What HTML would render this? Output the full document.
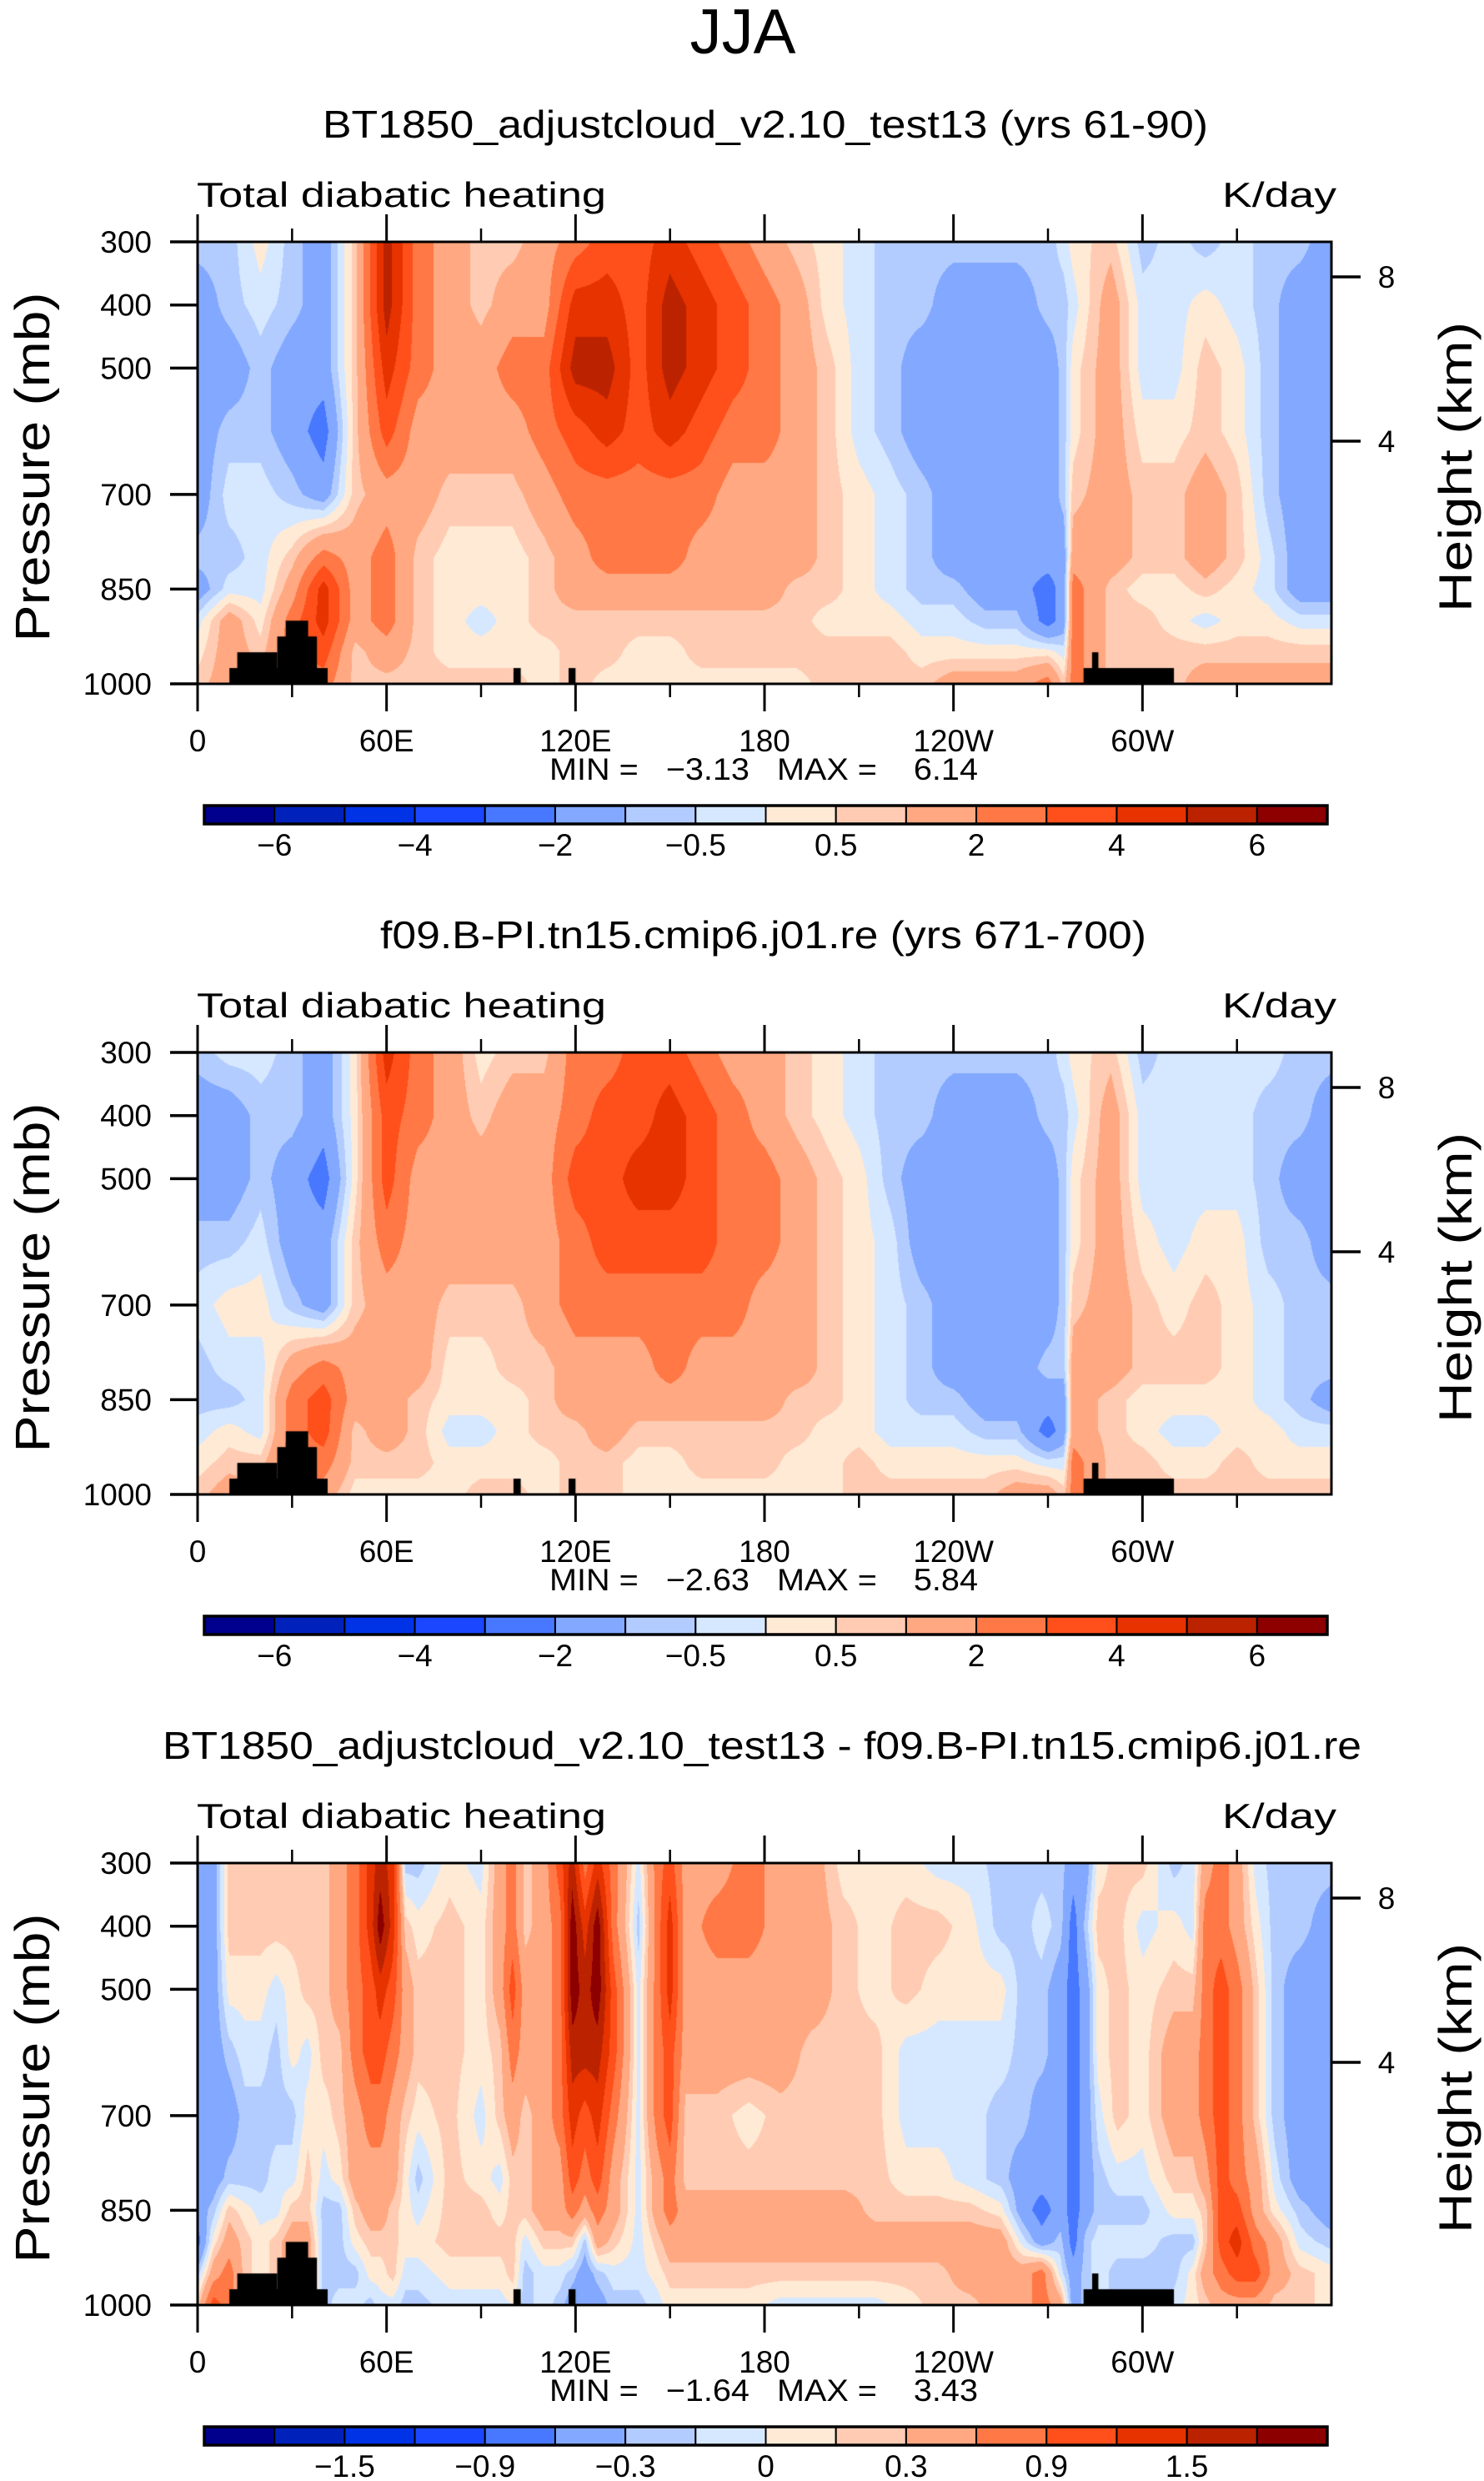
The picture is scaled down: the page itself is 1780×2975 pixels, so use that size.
<!DOCTYPE html>
<html><head><meta charset="utf-8">
<style>
html,body{margin:0;padding:0;background:#fff;}
#wrap{position:relative;width:1780px;height:2975px;overflow:hidden;}
canvas{position:absolute;}
svg{position:absolute;left:0;top:0;}
text{font-family:"Liberation Sans",sans-serif;fill:#000;}
</style></head>
<body>
<div id="wrap">
<canvas id="c0" width="1360" height="530" style="left:237px;top:290px"></canvas>
<canvas id="c1" width="1360" height="530" style="left:237px;top:1262px"></canvas>
<canvas id="c2" width="1360" height="530" style="left:237px;top:2234px"></canvas>
<svg id="ov" width="1780" height="2975">
<text x="891" y="64" font-size="76" text-anchor="middle" textLength="127" lengthAdjust="spacingAndGlyphs">JJA</text>
</svg>
</div>
<script>
// ---------- shared data ----------
const pressures = [300,400,500,600,700,800,850,900,950,1000];
const pressTicks = [300,400,500,700,850,1000];
const kmTicks = [8,4];
const lonMajor = [0,60,120,180,240,300];
const lonMajorLabels = ['0','60E','120E','180','120W','60W'];
const lonMinor = [30,90,150,210,270,330];
// land mask: [lonStart, lonEnd, topPressure]
const landLon0 = [10.1,12.6,25.3,28,100.3,117.8,281.3,284];
const landLon1 = [41.3,25.3,37.9,35.1,102.6,120,310,286];
const landTop  = [975,950,925,900,975,975,975,950];

const colors = ['#00008c','#0022bb','#0033e6','#1a47ff','#4878ff','#82a8ff','#b3ccff','#d6e8ff','#ffead6','#ffccb3','#ffa882','#ff7845','#ff4f1a','#e63300','#bb2200','#8c0000'];

// ---------- panel 1 ----------
const title1 = 'BT1850_adjustcloud_v2.10_test13 (yrs 61-90)';
const minmax1 = ['-3.13','6.14'];
const levels1 = [-6,-5,-4,-3,-2,-1,-0.5,0,0.5,1,2,3,4,5,6];
const cbLabels1 = [-6,-4,-2,-0.5,0.5,2,4,6];
const p1Lons = [0,10,20,30,40,50,60,70,80,90,100,110,120,130,140,150,160,170,180,190,200,210,220,230,240,250,260,270,275,278,290,300,310,320,330,340,350,360];
const p1Vals = [
[-0.75,-1.5,-1.5,-1.5,-1.5,-0.75,-1.5,-0.25,0.25,0.75],
[-0.75,-0.75,-1.5,-0.75,-0.25,-0.75,-0.25,1.5,1.5,1.5],
[0.25,-0.25,-0.75,-0.75,-0.25,-0.25,-0.25,0.25,0.75,0.75],
[-0.75,-0.75,-1.5,-1.5,-0.75,0.75,1.5,2.5,2.5,2.5],
[-1.5,-1.5,-1.5,-2.5,-1.5,2.5,4.5,4.5,3.5,2.5],
[0.75,0.75,0.75,0.75,0.75,1.5,1.5,1.5,0.75,0.75],
[5.5,5.5,4.5,3.5,1.5,2.5,2.5,2.5,1.5,0.75],
[2.5,2.5,2.5,1.5,1.5,0.75,0.75,0.75,0.75,0.75],
[1.5,1.5,1.5,1.5,0.75,0.25,0.25,0.25,0.25,0.75],
[0.75,0.75,1.5,1.5,0.75,0.25,0.25,-0.25,0.25,0.75],
[0.75,1.5,2.5,1.5,0.75,0.25,0.25,0.25,0.25,0.75],
[1.5,1.5,2.5,2.5,1.5,0.75,0.75,0.75,0.25,0.25],
[2.5,4.5,5.5,3.5,2.5,1.5,1.5,0.75,0.75,0.75],
[3.5,4.5,5.5,4.5,2.5,2.5,1.5,0.75,0.75,0.25],
[3.5,3.5,3.5,3.5,2.5,2.5,1.5,0.75,0.25,0.25],
[4.5,5.5,5.5,4.5,2.5,2.5,1.5,0.75,0.25,0.25],
[3.5,4.5,4.5,3.5,2.5,1.5,1.5,0.75,0.75,0.25],
[2.5,3.5,3.5,2.5,1.5,1.5,1.5,0.75,0.75,0.25],
[1.5,2.5,2.5,2.5,1.5,1.5,1.5,0.75,0.75,0.25],
[0.75,1.5,1.5,1.5,1.5,1.5,0.75,0.75,0.75,0.25],
[0.25,0.25,0.75,0.75,0.75,0.75,0.75,0.25,0.75,0.75],
[-0.25,-0.25,-0.25,-0.25,0.25,0.25,0.25,0.25,0.75,0.75],
[-0.75,-0.75,-0.75,-0.75,-0.25,-0.25,-0.25,0.25,0.75,0.75],
[-0.75,-0.75,-1.5,-1.5,-0.75,-0.75,-0.75,-0.25,0.25,0.75],
[-0.75,-1.5,-1.5,-1.5,-1.5,-1.5,-0.75,-0.25,0.25,1.5],
[-0.75,-1.5,-1.5,-1.5,-1.5,-1.5,-1.5,-0.75,0.25,1.5],
[-0.75,-1.5,-1.5,-1.5,-1.5,-1.5,-1.5,-0.75,0.25,1.5],
[-0.75,-0.75,-1.5,-1.5,-1.5,-1.5,-2.5,-2.5,0.25,2.5],
[-0.25,-0.75,-0.75,-0.75,-0.75,-1.5,-1.5,-1.5,-0.25,0.75],
[0.25,-0.25,0.25,0.25,0.75,1.5,2.5,2.5,2.5,2.5],
[0.75,1.5,1.5,1.5,1.5,1.5,0.75,0.75,0.75,0.75],
[-0.75,-0.25,-0.25,0.25,0.75,0.75,0.25,0.75,0.75,0.75],
[-0.25,-0.25,-0.25,0.25,0.75,0.75,0.25,0.25,0.75,0.75],
[-0.75,0.25,0.75,0.75,1.5,1.5,0.75,-0.25,0.75,1.5],
[-0.25,-0.25,0.25,0.25,0.75,0.75,0.25,0.25,0.75,1.5],
[-0.75,-0.75,-0.75,-0.75,-0.75,-0.25,-0.25,0.25,0.75,1.5],
[-0.75,-1.5,-1.5,-1.5,-1.5,-1.5,-1.5,-0.25,0.75,1.5],
[-1.5,-1.5,-1.5,-1.5,-1.5,-1.5,-1.5,-0.25,0.75,1.5]
];

// ---------- panel 2 ----------
const title2 = 'f09.B-PI.tn15.cmip6.j01.re (yrs 671-700)';
const minmax2 = ['-2.63','5.84'];
const p2Lons = [0,10,20,30,40,50,60,70,80,90,100,110,120,130,140,150,160,170,180,190,200,210,220,230,240,250,260,270,275,278,290,300,310,320,330,340,350,360];
const p2Vals = [
[-0.75,-1.5,-1.5,-0.75,-0.25,-0.75,-0.75,-0.25,0.25,0.75],
[-0.25,-1.5,-1.5,-0.75,0.25,-0.25,-0.75,0.25,0.75,1.5],
[-0.25,-0.75,-0.75,-0.25,0.25,-0.25,-0.25,-0.25,0.75,0.75],
[-0.75,-0.75,-1.5,-1.5,-0.75,1.5,2.5,2.5,2.5,2.5],
[-1.5,-1.5,-2.5,-1.5,-1.5,2.5,3.5,3.5,2.5,1.5],
[0.25,0.25,0.25,0.75,0.75,1.5,1.5,0.75,0.75,0.25],
[4.5,3.5,3.5,2.5,1.5,1.5,1.5,1.5,0.75,0.25],
[2.5,2.5,1.5,1.5,1.5,1.5,0.75,0.75,0.75,0.25],
[1.5,1.5,1.5,1.5,0.75,0.25,0.25,-0.25,0.25,0.25],
[0.25,0.75,1.5,1.5,0.75,0.25,0.25,-0.25,0.25,0.75],
[0.75,1.5,1.5,1.5,0.75,0.75,0.25,0.25,0.25,0.75],
[0.75,1.5,1.5,1.5,1.5,0.75,0.75,0.75,0.25,0.25],
[2.5,2.5,3.5,2.5,2.5,1.5,1.5,0.75,0.75,0.75],
[2.5,3.5,3.5,3.5,2.5,1.5,1.5,1.5,0.75,0.75],
[3.5,3.5,4.5,3.5,2.5,1.5,1.5,0.75,0.25,0.25],
[3.5,4.5,4.5,3.5,2.5,2.5,1.5,0.75,0.25,0.25],
[2.5,3.5,3.5,3.5,2.5,1.5,1.5,0.75,0.75,0.25],
[1.5,2.5,2.5,2.5,2.5,1.5,1.5,0.75,0.75,0.25],
[1.5,1.5,2.5,2.5,1.5,1.5,1.5,0.75,0.75,0.25],
[0.75,0.75,1.5,1.5,1.5,1.5,0.75,0.75,0.25,0.25],
[0.25,0.25,0.75,0.75,0.75,0.75,0.75,0.25,0.25,0.25],
[-0.25,-0.25,0.25,0.25,0.25,0.25,0.25,0.25,0.75,0.75],
[-0.75,-0.75,-0.75,-0.25,-0.25,-0.25,-0.25,-0.25,0.25,0.75],
[-0.75,-0.75,-1.5,-1.5,-0.75,-0.75,-0.75,-0.25,0.25,0.75],
[-0.75,-1.5,-1.5,-1.5,-1.5,-1.5,-0.75,-0.25,0.25,0.75],
[-0.75,-1.5,-1.5,-1.5,-1.5,-1.5,-1.5,-0.75,0.25,0.75],
[-0.75,-1.5,-1.5,-1.5,-1.5,-1.5,-1.5,-0.75,0.25,1.5],
[-0.75,-0.75,-1.5,-1.5,-1.5,-0.75,-1.5,-2.5,-0.25,1.5],
[-0.25,-0.75,-0.75,-0.75,-0.75,-0.75,-1.5,-1.5,-0.25,0.75],
[0.25,-0.25,0.25,0.25,0.75,1.5,1.5,1.5,2.5,2.5],
[0.75,1.5,1.5,1.5,1.5,1.5,0.75,0.75,0.75,0.75],
[-0.75,-0.25,-0.25,0.25,0.75,0.75,0.25,0.25,0.75,0.75],
[-0.25,-0.25,-0.25,-0.25,0.25,0.75,0.25,-0.25,0.25,0.75],
[-0.25,-0.25,-0.25,0.25,0.75,0.75,0.25,-0.25,0.25,0.75],
[-0.25,-0.25,-0.25,0.25,0.25,0.25,0.25,0.25,0.75,0.75],
[-0.25,-0.75,-0.75,-0.75,-0.25,-0.25,-0.25,0.25,0.25,0.75],
[-0.75,-0.75,-1.5,-0.75,-0.75,-0.75,-0.75,-0.25,0.25,0.75],
[-0.75,-1.5,-1.5,-1.5,-0.75,-0.75,-1.5,-0.25,0.25,0.75]
];

// ---------- panel 3 ----------
const title3 = 'BT1850_adjustcloud_v2.10_test13 - f09.B-PI.tn15.cmip6.j01.re';
const minmax3 = ['-1.64','3.43'];
const levels3 = [-1.8,-1.5,-1.2,-0.9,-0.6,-0.3,-0.15,0,0.15,0.3,0.6,0.9,1.2,1.5,1.8];
const cbLabels3 = [-1.5,-0.9,-0.3,0,0.3,0.9,1.5];
const p3Lons = [0,5,10,15,20,25,30,35,40,45,50,55,58,62,66,70,80,90,96,100,104,110,115,119,123,127,132,140,146,150,155,165,175,185,195,205,215,225,235,245,255,262,268,274,278,282,286,292,300,310,316,320,325,330,336,342,350,360];
const p3Vals = [
[-0.45,-0.45,-0.45,-0.45,-0.45,-0.45,-0.45,-0.75,-0.22,0.22],
[-0.45,-0.45,-0.45,-0.45,-0.45,-0.45,-0.22,0.07,0.45,1.05],
[0.22,0.22,0.07,-0.22,-0.45,-0.22,0.22,0.45,0.75,0.75],
[0.22,0.22,0.07,-0.07,-0.22,-0.22,0.07,0.22,0.22,0.22],
[0.22,0.22,0.07,-0.07,-0.22,-0.22,-0.07,0.07,0.07,0.07],
[0.22,0.22,-0.07,-0.22,-0.22,-0.07,-0.07,0.22,0.22,0.22],
[0.22,0.22,0.07,0.07,-0.22,-0.07,0.22,0.45,0.45,0.45],
[0.22,0.22,0.22,-0.07,0.07,0.22,0.22,0.45,0.45,0.45],
[0.22,0.22,0.22,0.22,0.07,-0.07,-0.22,-0.22,-0.22,-0.22],
[0.45,0.45,0.45,0.22,0.22,0.07,-0.22,-0.22,-0.22,-0.07],
[0.75,0.75,0.75,0.75,0.45,0.45,0.22,0.07,-0.22,-0.07],
[1.35,1.35,1.05,1.05,0.75,0.45,0.45,0.22,0.07,-0.22],
[1.65,2,1.35,1.05,0.75,0.45,0.45,0.22,0.07,-0.07],
[1.35,1.35,1.05,0.75,0.45,0.45,0.22,0.22,0.22,-0.07],
[-0.22,0.22,0.45,0.45,0.22,0.07,0.07,0.07,-0.07,-0.22],
[-0.22,0.07,0.22,0.22,0.07,-0.22,-0.07,0.07,-0.07,-0.22],
[0.07,0.22,0.22,0.22,0.22,0.22,0.22,0.22,0.07,-0.07],
[-0.07,0.07,0.07,0.07,-0.07,0.07,0.22,0.22,0.07,-0.07],
[0.45,0.45,0.45,0.22,0.22,-0.07,0.07,0.22,0.07,-0.07],
[0.75,0.75,1.05,0.75,0.45,0.22,0.22,0.22,0.22,0],
[0.22,0.22,0.45,0.45,0.22,0.22,0.22,-0.07,-0.22,-0.22],
[0.45,0.45,0.45,0.45,0.45,0.45,0.45,0.22,-0.07,-0.07],
[1.05,0.75,0.75,0.75,0.75,0.45,0.45,0.22,-0.07,-0.22],
[1.65,2,2,1.65,1.35,1.05,0.75,0.22,-0.22,-0.45],
[0.75,1.35,1.65,1.65,1.05,0.75,0.45,-0.22,-0.45,-0.45],
[1.35,2,2,1.65,1.35,1.05,0.75,0.45,-0.22,-0.45],
[0.75,0.75,1.05,1.05,0.75,0.45,0.45,0.22,-0.07,-0.22],
[-0.07,-0.22,-0.07,-0.07,-0.07,-0.07,-0.07,-0.07,-0.07,-0.22],
[0.75,0.75,0.75,0.75,0.75,0.45,0.45,0.22,0.07,-0.07],
[1.05,1.35,1.35,1.05,1.05,0.75,0.75,0.45,0.22,0.07],
[0.45,0.45,0.45,0.45,0.22,0.22,0.45,0.45,0.22,0.07],
[0.45,0.75,0.45,0.45,0.22,0.22,0.45,0.45,0.22,0.07],
[0.75,0.75,0.45,0.45,0.07,0.22,0.45,0.45,0.22,0.07],
[0.45,0.45,0.45,0.45,0.22,0.22,0.45,0.45,0.22,-0.07],
[0.45,0.45,0.45,0.22,0.22,0.22,0.45,0.45,0.22,-0.07],
[0.07,0.22,0.22,0.22,0.22,0.22,0.45,0.45,0.22,-0.07],
[0.07,0.07,0.07,0.22,0.22,0.22,0.22,0.45,0.22,-0.07],
[0.07,0.22,0.22,-0.07,-0.07,0.07,0.22,0.45,0.22,0.07],
[-0.07,0.22,0.07,-0.07,-0.07,0.07,0.22,0.45,0.22,0.22],
[-0.07,0.07,0.07,-0.07,-0.07,-0.07,0.22,0.45,0.45,0.22],
[-0.22,-0.22,0.07,-0.07,-0.22,-0.22,0.07,0.45,0.45,0.45],
[-0.22,-0.22,-0.22,-0.22,-0.22,-0.45,-0.45,-0.07,0.45,0.45],
[-0.22,-0.07,-0.22,-0.22,-0.45,-0.45,-0.75,-0.45,0.75,0.75],
[-0.22,-0.22,-0.45,-0.45,-0.45,-0.45,-0.45,-0.22,-0.07,0.45],
[-0.45,-0.75,-0.75,-0.75,-0.75,-0.75,-0.75,-0.75,-0.45,-0.45],
[-0.45,-0.22,-0.45,-0.45,-0.45,-0.45,-0.45,-0.22,-0.22,-0.22],
[0.07,0.22,0.07,0.07,-0.07,-0.22,-0.22,-0.07,-0.07,-0.07],
[0.22,0.22,0.22,0.22,0.22,-0.07,-0.22,-0.07,-0.22,-0.22],
[0.22,-0.07,0.07,0.07,0.07,-0.07,-0.22,-0.07,-0.22,-0.22],
[-0.22,0.07,0.22,0.45,0.45,0.22,0.07,-0.22,-0.22,-0.07],
[-0.07,-0.07,0.22,0.45,0.45,0.22,0.07,-0.22,0.07,0.07],
[0.45,0.75,0.75,0.75,0.75,0.45,0.22,0.22,0.45,0.22],
[0.75,0.75,1.05,1.05,1.05,1.05,1.05,1.05,0.75,0.45],
[0.45,0.45,0.75,0.75,0.75,0.75,1.05,1.35,1.05,0.45],
[-0.07,0.07,0.22,0.22,0.22,0.45,0.45,0.75,1.05,0.45],
[-0.22,-0.22,-0.22,-0.22,-0.22,-0.07,0.07,0.45,0.45,0.22],
[-0.22,-0.22,-0.45,-0.45,-0.45,-0.45,-0.22,-0.07,0.22,0.22],
[-0.22,-0.45,-0.45,-0.45,-0.45,-0.45,-0.45,-0.22,0.07,0.07]
];

// ---------- geometry ----------
const PX = 237, PW = 1360, PH = 530, PTOP = 290, DY = 972;
function xOf(lon){ return PX + lon/360*PW; }
function yOf(p, top){ return top + (p-300)/700*PH; }
function kmY(km, top){ return top + (km===8 ? 42 : 239); }

function hexRgb(h){ return [parseInt(h.slice(1,3),16),parseInt(h.slice(3,5),16),parseInt(h.slice(5,7),16)]; }
const rgb = colors.map(hexRgb);

function bandOf(v, levels){ let k=0; while(k<levels.length && v>=levels[k]) k++; return k; }

function segIndex(arr, v){
  let i=0; while(i<arr.length-2 && v>arr[i+1]) i++;
  const t=(v-arr[i])/(arr[i+1]-arr[i]); return [i, Math.max(0,Math.min(1,t))];
}

function drawHeat(cid, lons, vals, levels){
  const cv=document.getElementById(cid), ctx=cv.getContext('2d');
  const img=ctx.createImageData(PW,PH), d=img.data;
  const rows=[];
  for(let y=0;y<PH;y++){ rows.push(segIndex(pressures, 300+(y+0.5)/PH*700)); }
  for(let x=0;x<PW;x++){
    const [i,t]=segIndex(lons,(x+0.5)/PW*360);
    const a=vals[i], b=vals[i+1];
    for(let y=0;y<PH;y++){
      const [j,u]=rows[y];
      const v=(1-t)*((1-u)*a[j]+u*a[j+1]) + t*((1-u)*b[j]+u*b[j+1]);
      const c=rgb[bandOf(v,levels)], o=(y*PW+x)*4;
      d[o]=c[0]; d[o+1]=c[1]; d[o+2]=c[2]; d[o+3]=255;
    }
  }
  ctx.putImageData(img,0,0);
  ctx.fillStyle='#000';
  for(let k=0;k<landLon0.length;k++){
    const x0=xOf(landLon0[k])-PX, x1=xOf(landLon1[k])-PX, y0=yOf(landTop[k],0);
    ctx.fillRect(x0,y0,x1-x0,PH-y0);
  }
}

const svg=document.getElementById('ov'), NS='http://www.w3.org/2000/svg';
function el(tag, attrs, parent){ const e=document.createElementNS(NS,tag); for(const k in attrs) e.setAttribute(k,attrs[k]); (parent||svg).appendChild(e); return e; }
function line(x1,y1,x2,y2,w,g){ return el('line',{x1:x1,y1:y1,x2:x2,y2:y2,stroke:'#000','stroke-width':w},g); }
function txt(s,x,y,size,anchor,g,extra){ const t=el('text',Object.assign({x:x,y:y,'font-size':size,'text-anchor':anchor||'start'},extra||{}),g); t.textContent=s; return t; }
function fmt(v){ return (v<0?'\u2212':'')+Math.abs(v); }

function drawPanel(n, title, titleX0, titleX1, mm, levels, cbLabels){
  const top = PTOP + n*DY;
  const g = el('g',{});
  
  
  const tt = txt(title,(titleX0+titleX1)/2, top-125, 46,'middle',g,{textLength:titleX1-titleX0,lengthAdjust:'spacingAndGlyphs'});
  
  
  const lt = txt('Total diabatic heating',236,top-42,42,'start',g,{textLength:491,lengthAdjust:'spacingAndGlyphs'});
  
  
  const ut = txt('K/day',1603,top-42,42,'end',g,{textLength:137,lengthAdjust:'spacingAndGlyphs'});
  
  
  const fr = el('rect',{x:PX,y:top,width:PW,height:PH,fill:'none',stroke:'#000','stroke-width':3},g);
  
  
  lonMajor.forEach((lon,i)=>{
    const x=xOf(lon);
    line(x,top,x,top-33,3,g); line(x,top+PH,x,top+PH+33,3,g);
    const t=txt(lonMajorLabels[i],x,top+PH+81,37,'middle',g);
    
    
  });
  lonMinor.forEach(lon=>{ const x=xOf(lon); line(x,top,x,top-16,2.5,g); line(x,top+PH,x,top+PH+16,2.5,g); });
  pressTicks.forEach(p=>{
    const y=yOf(p,top); line(PX-33,y,PX,y,3.5,g);
    const t=txt(String(p),182,y+13,37,'end',g);
    
    
  });
  kmTicks.forEach(km=>{
    const y=kmY(km,top); line(PX+PW,y,PX+PW+35,y,3.5,g);
    const t=txt(String(km),1663,y+13,37,'middle',g);
    
    
  });
  const ya=txt('Pressure (mb)',0,0,58,'middle',g,{transform:'translate(59,'+(top+270)+') rotate(-90)',textLength:419,lengthAdjust:'spacingAndGlyphs'});
  
  
  const yb=txt('Height (km)',0,0,56,'middle',g,{transform:'translate(1765,'+(top+270)+') rotate(-90)',textLength:348,lengthAdjust:'spacingAndGlyphs'});
  
  
  const mmT=txt('MIN =   '+mm[0].replace('-','\u2212')+'   MAX =    '+mm[1],659,top+645,37,'start',g,{textLength:514,lengthAdjust:'spacingAndGlyphs',style:'white-space:pre'});
  
  
  const cbX=245, cbW=1347, cbY=top+676, cbH=22, bw=cbW/colors.length;
  colors.forEach((c,k)=>{
    const r=el('rect',{x:cbX+k*bw,y:cbY,width:bw,height:cbH,fill:c,stroke:'#000','stroke-width':2},g);
    
    
  });
  el('rect',{x:cbX,y:cbY,width:cbW,height:cbH,fill:'none',stroke:'#000','stroke-width':3.5},g);
  cbLabels.forEach(v=>{
    const k=levels.indexOf(v)+1;
    const t=txt(fmt(v),cbX+k*bw,cbY+60,37,'middle',g);
    
    
  });
}

drawHeat('c0',p1Lons,p1Vals,levels1);
drawHeat('c1',p2Lons,p2Vals,levels1);
drawHeat('c2',p3Lons,p3Vals,levels3);
drawPanel(0,title1,387,1449,minmax1,levels1,cbLabels1);
drawPanel(1,title2,456,1375,minmax2,levels1,cbLabels1);
drawPanel(2,title3,195,1633,minmax3,levels3,cbLabels3);
</script>
</body></html>
